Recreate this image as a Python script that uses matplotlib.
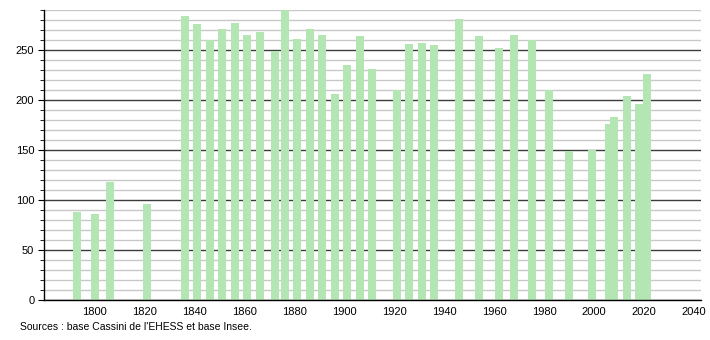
import matplotlib
matplotlib.use('Agg')

import matplotlib.pyplot as plt
from matplotlib.ticker import MultipleLocator

# population per census year
years = [1793, 1800, 1806, 1821, 1836, 1841, 1846, 1851, 1856, 1861, 1866,
         1872, 1876, 1881, 1886, 1891, 1896, 1901, 1906, 1911, 1921, 1926,
         1931, 1936, 1946, 1954, 1962, 1968, 1975, 1982, 1990, 1999, 2006,
         2008, 2013, 2018, 2021]
population = [88, 86, 118, 96, 284, 276, 260, 271, 277, 265, 268,
              249, 290, 261, 271, 265, 206, 235, 264, 231, 210, 256,
              257, 255, 281, 264, 252, 265, 260, 210, 149, 150, 176,
              183, 204, 196, 226]
x_ticks = [1800, 1820, 1840, 1860, 1880, 1900, 1920, 1940, 1960, 1980, 2000, 2020, 2040]
source_text = "Sources : base Cassini de l'EHESS et base Insee."

plt.rcParams['font.family'] = ['Liberation Sans', 'DejaVu Sans']

fig = plt.figure(figsize=(7.1, 3.4), dpi=100)
ax = fig.add_axes([44 / 710, 40 / 340, 657 / 710, 290 / 340])

ax.bar(years, population, width=3.2, color='#b3e6b3', zorder=2)

ax.set_xlim(1779.6, 2042.8)
ax.set_ylim(0, 290)

# grid: dark every 50, light every 10
ax.yaxis.set_major_locator(MultipleLocator(50))
ax.yaxis.set_minor_locator(MultipleLocator(10))
ax.grid(axis='y', which='minor', color='#c8c8c8', linewidth=1, zorder=0)
ax.grid(axis='y', which='major', color='#3c3c3c', linewidth=1, zorder=1)

ax.set_xticks(x_ticks)
ax.tick_params(axis='x', length=0, labelsize=8, pad=5)
ax.tick_params(axis='y', which='major', length=4, labelsize=8, pad=3)
ax.tick_params(axis='y', which='minor', length=3)

for side in ['top', 'right']:
    ax.spines[side].set_visible(False)
ax.spines['left'].set_linewidth(1)
ax.spines['bottom'].set_linewidth(1)

fig.text(20 / 710, 1 - 327 / 340, source_text, fontsize=7.5, va='center', ha='left')

fig.savefig('out.png', dpi=100)
